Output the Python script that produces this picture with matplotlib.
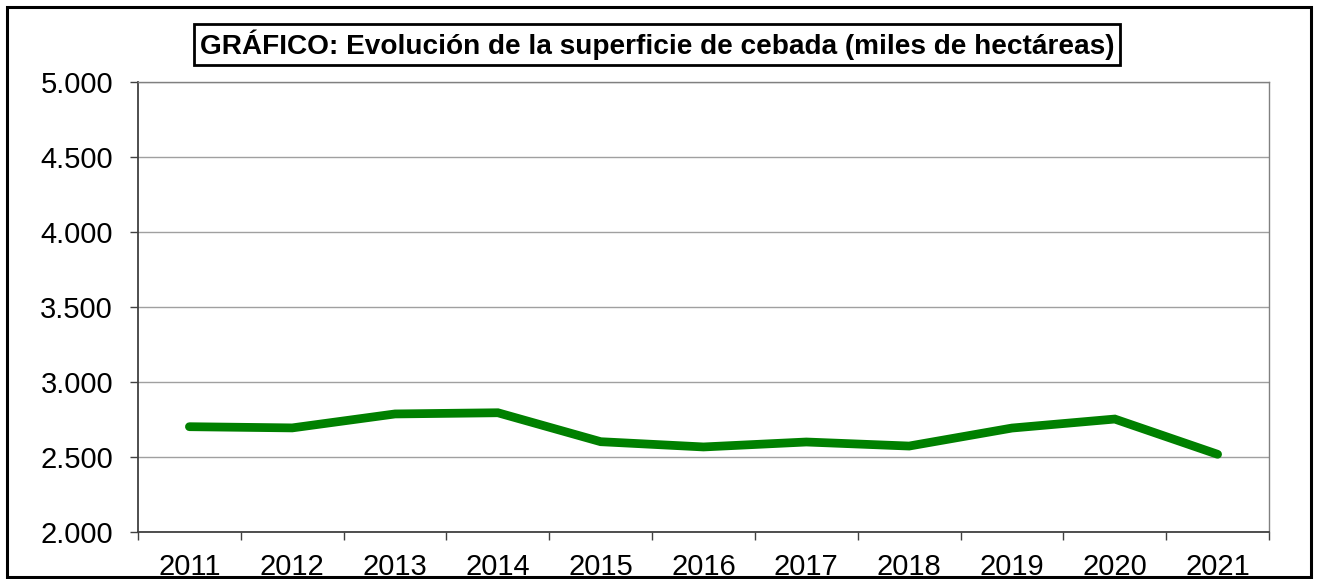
import numpy as np
import matplotlib.pyplot as plt
from matplotlib.patches import Rectangle
from matplotlib.ticker import FuncFormatter, FixedLocator

years = ['2011', '2012', '2013', '2014', '2015', '2016', '2017', '2018', '2019', '2020', '2021']
superficie = [2702, 2694, 2787, 2795, 2602, 2567, 2600, 2573, 2693, 2753, 2518]
title = 'GRÁFICO: Evolución de la superficie de cebada (miles de hectáreas)'

plt.rcParams['font.family'] = ['Liberation Sans', 'DejaVu Sans']

fig = plt.figure(figsize=(13.17, 5.79), dpi=100)
ax = fig.add_axes([138 / 1317, 1 - 532 / 579, (1269 - 138) / 1317, (532 - 82) / 579])

x = np.arange(len(years))
ax.plot(x, superficie, color='#008000', lw=6.3, solid_capstyle='round', solid_joinstyle='miter', zorder=3)

ax.set_xlim(-0.5, len(years) - 0.5)
ax.set_ylim(2000, 5000)
ax.set_yticks(np.arange(2000, 5001, 500))
ax.yaxis.set_major_formatter(FuncFormatter(lambda v, p: f'{int(v):,}'.replace(',', '.')))
ax.grid(axis='y', color='#a0a0a0', lw=1)
ax.set_axisbelow(True)

ax.set_xticks(x)
ax.set_xticklabels(years)
ax.xaxis.set_minor_locator(FixedLocator(np.arange(-0.5, len(years), 1)))
ax.tick_params(axis='x', which='major', length=0, pad=15, labelsize=21)
ax.tick_params(axis='x', which='minor', length=6, width=1, color='#404040', direction='out')
ax.tick_params(axis='y', length=6, width=1, color='#404040', pad=12, labelsize=21)

for s in ['left', 'bottom']:
    ax.spines[s].set_color('#404040')
    ax.spines[s].set_linewidth(1.3)
for s in ['top', 'right']:
    ax.spines[s].set_color('#808080')
    ax.spines[s].set_linewidth(1)

# outer frame
fig.patches.append(Rectangle((7 / 1317, 2 / 579), (1311 - 7) / 1317, (577 - 7) / 579,
                             transform=fig.transFigure, fill=False, edgecolor='black', lw=2.2))

fig.text(0.499, 1 - 44.5 / 579, title, ha='center', va='center', fontsize=20.2, fontweight='bold',
         bbox=dict(boxstyle='square,pad=0.2', facecolor='white', edgecolor='black', lw=2))

fig.savefig('out.png', dpi=100)
